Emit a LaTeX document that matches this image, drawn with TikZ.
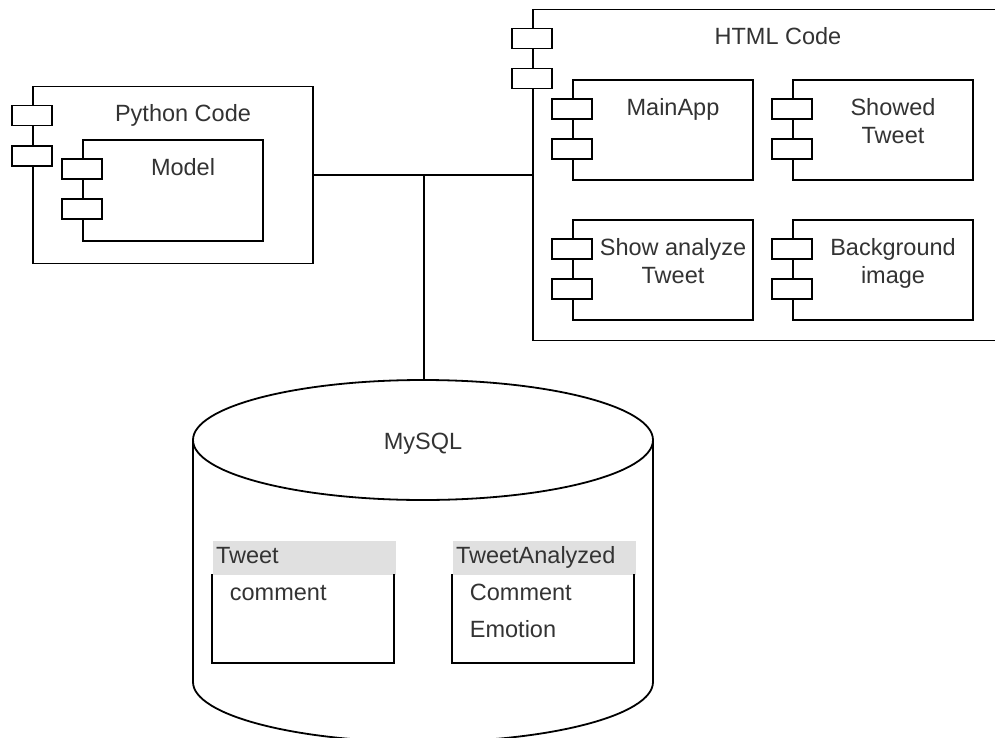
\documentclass[tikz,border=0pt]{standalone}
\usepackage{fontspec}
\setmainfont{Liberation Sans}
\usetikzlibrary{positioning}
\definecolor{header}{HTML}{e0e0e0}
\definecolor{textgray}{HTML}{333333}

\begin{document}
\begin{tikzpicture}[x=0.5pt,y=-0.5pt,font=\fontsize{11.75}{14}\selectfont,line width=0.9pt]
    \tikzstyle{comp}=[draw, fill=white, inner sep=0pt]
    \tikzstyle{compbox}=[comp, minimum width=90pt, minimum height=50pt]
    \tikzstyle{tab}=[draw, fill=white, minimum width=20pt, minimum height=10pt, inner sep=0pt]
    \tikzstyle{compname}=[anchor=base, align=center, text=textgray, inner sep=0pt]
    \tikzstyle{head}=[fill=header, minimum width=91.5pt, minimum height=17pt, inner sep=1.5pt, text width=88.5pt, align=left, text height=8.2pt, text depth=2.4pt, text=textgray]
    \tikzstyle{body}=[minimum width=90pt, minimum height=43.5pt, inner sep=0pt]
    \tikzstyle{field}=[anchor=base west, text=textgray, inner sep=0pt]
    \fill[white] (0,0) rectangle (995,738);
    \useasboundingbox (0,0) rectangle (995,738);

    % Python
    \node[comp, minimum width=140pt, minimum height=88.5pt] (python) at (173,175) {};
    \node[tab] (pythontab1) at ([yshift=-15pt]python.north west) {};
    \node[tab] (pythontab2) at ([yshift=-35pt]python.north west) {};
    \node[compname] (pythonname) at ([xshift=5pt,yshift=-18pt]python.north) {Python Code};

    \node[comp, minimum width=90pt, minimum height=50.5pt] (model) at (173,190.5) {};
    \node[tab] (modeltab1) at ([yshift=-15pt]model.north west) {};
    \node[tab] (modeltab2) at ([yshift=-35pt]model.north west) {};
    \node[compname] (modelname) at ([xshift=5pt,yshift=-18pt]model.north) {Model};

    % HTML
    \node[comp, minimum width=233.5pt, minimum height=165.5pt] (html) at (766.5,175) {};
    \node[tab] (htmltab1) at ([yshift=-15pt]html.north west) {};
    \node[tab] (htmltab2) at ([yshift=-35pt]html.north west) {};
    \node[compname] (htmlname) at ([xshift=5pt,yshift=-18pt]html.north -| 768,0) {HTML Code};

    \node[compbox] (mainapp) at (663,130) {};
    \node[tab] (mainapptab1) at ([yshift=-15pt]mainapp.north west) {};
    \node[tab] (mainapptab2) at ([yshift=-35pt]mainapp.north west) {};
    \node[compname] (mainappname) at ([xshift=5pt,yshift=-18pt]mainapp.north) {MainApp};

    \node[compbox] (showed) at (883,130) {};
    \node[tab] (showedtab1) at ([yshift=-15pt]showed.north west) {};
    \node[tab] (showedtab2) at ([yshift=-35pt]showed.north west) {};
    \node[compname] (showedname) at ([xshift=5pt,yshift=-32pt]showed.north) {Showed\\Tweet};

    \node[compbox] (analyze) at (663,270) {};
    \node[tab] (analyzetab1) at ([yshift=-15pt]analyze.north west) {};
    \node[tab] (analyzetab2) at ([yshift=-35pt]analyze.north west) {};
    \node[compname] (analyzename) at ([xshift=5pt,yshift=-32pt]analyze.north) {Show analyze\\Tweet};

    \node[compbox] (background) at (883,270) {};
    \node[tab] (backgroundtab1) at ([yshift=-15pt]background.north west) {};
    \node[tab] (backgroundtab2) at ([yshift=-35pt]background.north west) {};
    \node[compname] (backgroundname) at ([xshift=5pt,yshift=-32pt]background.north) {Background\\image};

    % MySQL
    \draw[fill=white] (193,440) -- (193,682) arc[start angle=180, end angle=360, x radius=115pt, y radius=30pt] -- (653,440);
    \draw (423,440) ellipse [x radius=115pt, y radius=30pt];
    \coordinate (mysqltop) at (424,380);
    \node[compname] (mysql) at (423,449) {MySQL};

    \node[head] (tweet) at (304.5,558) {Tweet};
    \node[body] (tweetbody) at (303,618.5) {};
    \draw (tweetbody.north west) |- (tweetbody.south east) -- (tweetbody.north east);
    \node[field] (tweetcomment) at (229,600) {comment};

    \node[head] (analyzed) at (544.5,558) {TweetAnalyzed};
    \node[body] (analyzedbody) at (543,618.5) {};
    \draw (analyzedbody.north west) |- (analyzedbody.south east) -- (analyzedbody.north east);
    \node[field] (analyzedcomment) at (469,600) {Comment};
    \node[field] (analyzedemotion) at (469,637) {Emotion};

    \draw (python) -- (html);
    \draw (python -| mysqltop) -- (mysqltop);
\end{tikzpicture}
\end{document}
